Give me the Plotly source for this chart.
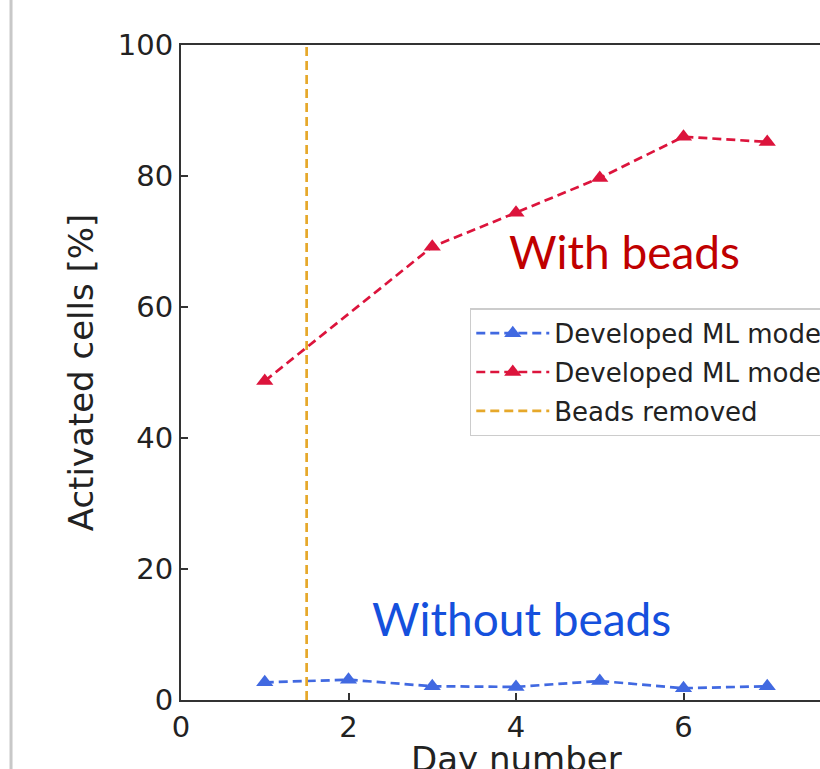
import plotly.graph_objects as go

# ---- data ----
days_without = [1, 2, 3, 4, 5, 6, 7]
act_without = [2.7, 3.1, 2.1, 2.0, 2.9, 1.8, 2.1]
days_with = [1, 3, 4, 5, 6, 7]
act_with = [48.7, 69.2, 74.4, 79.7, 86.0, 85.2]
beads_removed_day = 1.5
x_ticks = [0, 2, 4, 6, 8]
y_ticks = [0, 20, 40, 60, 80, 100]
legend_names = ["Developed ML model", "Developed ML model", "Beads removed"]

BLUE = "#4169E1"
RED = "#DC143C"
ORANGE = "#E6A82A"
dash = "9px,5px"

fig = go.Figure()
fig.add_trace(go.Scatter(
    x=days_without, y=act_without, mode="lines+markers", name=legend_names[0],
    line=dict(color=BLUE, width=2.7, dash=dash),
    marker=dict(symbol="triangle-up", size=15, color=BLUE),
    legendgroup="a"))
fig.add_trace(go.Scatter(
    x=days_with, y=act_with, mode="lines+markers", name=legend_names[1],
    line=dict(color=RED, width=2.7, dash=dash),
    marker=dict(symbol="triangle-up", size=15, color=RED),
    legendgroup="b"))
fig.add_trace(go.Scatter(
    x=[beads_removed_day, beads_removed_day], y=[y_ticks[0], y_ticks[-1]],
    mode="lines", name=legend_names[2],
    line=dict(color=ORANGE, width=2.7, dash=dash),
    legendgroup="c"))

fig.add_annotation(x=5.30, y=68.5, text="With beads", showarrow=False,
                   xanchor="center", yanchor="middle",
                   font=dict(family="Lato", size=46, color="#C00000"))
fig.add_annotation(x=4.07, y=12.4, text="Without beads", showarrow=False,
                   xanchor="center", yanchor="middle",
                   font=dict(family="Lato", size=46, color="#1550DD"))
# x-axis title
fig.add_annotation(x=0.5, y=0, xref="paper", yref="paper", text="Day number",
                   showarrow=False, xanchor="center", yanchor="top", yshift=-37,
                   font=dict(family="DejaVu Sans", size=34, color="#222222"))

# screenshot frame edge on the left
fig.add_shape(type="line", xref="paper", yref="paper",
              x0=-0.2537, x1=-0.2537, y0=-0.11, y1=1.08,
              line=dict(color="#C8C8C8", width=3))

axis_common = dict(showline=True, linecolor="#333333", linewidth=2, mirror=True,
                   ticks="inside", ticklen=7, tickwidth=1.5, tickcolor="#333333",
                   showgrid=False, zeroline=False, automargin=False,
                   tickfont=dict(family="DejaVu Sans", size=29, color="#222222"))

fig.update_layout(
    width=900, height=769,
    margin=dict(l=181, r=49, t=45, b=69),
    paper_bgcolor="white", plot_bgcolor="white",
    xaxis=dict(range=[0, 8], tickvals=x_ticks, **axis_common),
    yaxis=dict(range=[0, 100], tickvals=y_ticks, ticklabelstandoff=0,
               title=dict(text="Activated cells [%]", standoff=14,
                          font=dict(family="DejaVu Sans", size=34, color="#222222")),
               **axis_common),
    legend=dict(x=0.431, y=0.598, xanchor="left", yanchor="top",
                bgcolor="white", bordercolor="#CCCCCC", borderwidth=1.5,
                font=dict(family="DejaVu Sans", size=26, color="#222222"),
                traceorder="grouped", tracegroupgap=2, itemwidth=73),
    showlegend=True,
)

fig.write_html("out.html", config={"displayModeBar": False},
               post_script="document.body.style.margin='0';"
                           "document.body.style.overflow='hidden';"
                           "document.documentElement.style.overflow='hidden';")
